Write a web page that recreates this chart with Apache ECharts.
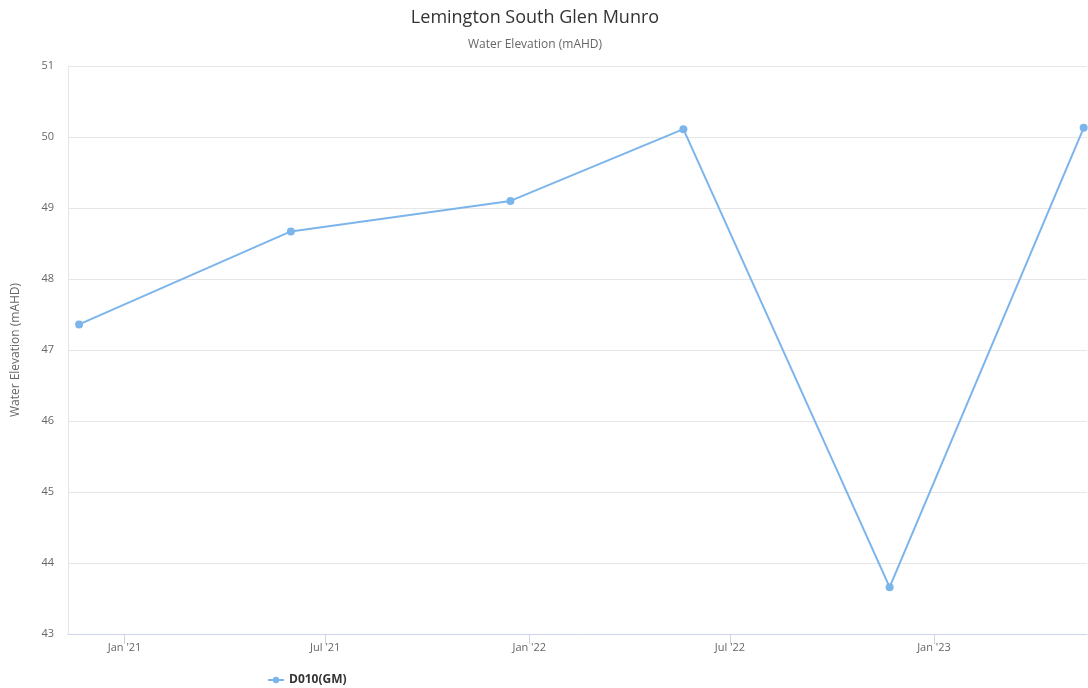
<!DOCTYPE html>
<html>
<head>
<meta charset="utf-8">
<script src="https://cdn.jsdelivr.net/npm/echarts@6/dist/echarts.min.js"></script>
<style>html,body{margin:0;padding:0;background:#fff;}#c{width:1088px;height:688px;}</style>
</head>
<body>
<div id="c"></div>
<script>
const seriesName = 'D010(GM)';
const dates = ['2020-11-21', '2021-05-31', '2021-12-15', '2022-05-20', '2022-11-22', '2023-05-16'];
const elevations = [47.36, 48.67, 49.10, 50.11, 43.66, 50.13];
const xTickDates = ['2021-01-01', '2021-07-01', '2022-01-01', '2022-07-01', '2023-01-01'];
const yTicks = [43, 44, 45, 46, 47, 48, 49, 50, 51];
const xMin = '2020-11-11';
const xMax = '2023-05-19';
const monthNames = ['Jan','Feb','Mar','Apr','May','Jun','Jul','Aug','Sep','Oct','Nov','Dec'];

const ts = s => new Date(s + 'T00:00:00Z').getTime();
const points = dates.map((d, i) => [ts(d), elevations[i]]);
const tickVals = xTickDates.map(ts);
const FONT = '"Open Sans", "DejaVu Sans", sans-serif';

const chart = echarts.init(document.getElementById('c'), null, {renderer: 'canvas'});
chart.setOption({
  animation: false,
  backgroundColor: '#fff',
  textStyle: {fontFamily: FONT},
  title: [
    {text: 'Lemington South Glen Munro', left: 530, top: 4, textAlign: 'center',
     textStyle: {fontSize: 18, fontWeight: 'normal', color: '#333', fontFamily: FONT}},
    {text: 'Water Elevation (mAHD)', left: 530, top: 34, textAlign: 'center',
     textStyle: {fontSize: 12, fontWeight: 'normal', color: '#666', fontFamily: FONT}}
  ],
  legend: {
    left: 262, top: 669, itemWidth: 16, itemHeight: 8, itemGap: 10,
    textStyle: {fontSize: 12, fontWeight: 'bold', color: '#333', fontFamily: FONT},
    data: [seriesName]
  },
  grid: {left: 68, right: 1, top: 66, bottom: 54, containLabel: false},
  xAxis: {
    type: 'value',
    min: ts(xMin), max: ts(xMax),
    axisLine: {show: true, lineStyle: {color: '#ccd6eb', width: 1}},
    axisTick: {show: true, length: 10, lineStyle: {color: '#ccd6eb'}, customValues: tickVals},
    splitLine: {show: false},
    axisLabel: {
      customValues: tickVals,
      color: '#666', fontSize: 11, margin: 8, fontFamily: FONT,
      formatter: v => {
        const d = new Date(v);
        return monthNames[d.getUTCMonth()] + " '" + String(d.getUTCFullYear()).slice(2);
      }
    }
  },
  yAxis: {
    type: 'value',
    min: yTicks[0], max: yTicks[yTicks.length - 1], interval: 1,
    name: 'Water Elevation (mAHD)', nameLocation: 'middle', nameGap: 46, nameRotate: 90,
    nameTextStyle: {color: '#666', fontSize: 12, fontFamily: FONT},
    axisLine: {show: true, lineStyle: {color: '#e6e6e6'}},
    axisTick: {show: false},
    axisLabel: {color: '#666', fontSize: 11, margin: 14, fontFamily: FONT},
    splitLine: {show: true, lineStyle: {color: '#e6e6e6', width: 1}}
  },
  series: [{
    name: seriesName,
    type: 'line',
    data: points,
    symbol: 'circle', symbolSize: 8, showSymbol: true,
    lineStyle: {color: '#7cb5ec', width: 2},
    itemStyle: {color: '#7cb5ec'},
    emphasis: {disabled: true}
  }]
});
</script>
</body>
</html>
